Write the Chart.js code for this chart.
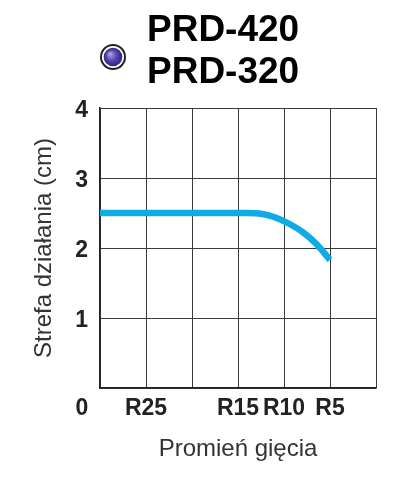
<!DOCTYPE html>
<html>
<head>
<meta charset="utf-8">
<script src="https://cdn.jsdelivr.net/npm/chart.js@4/dist/chart.umd.min.js"></script>
<style>
html,body{margin:0;padding:0;background:#fff;}
#wrap{width:406px;height:483px;position:relative;}
</style>
</head>
<body>
<div id="wrap"><canvas id="c" width="406" height="483"></canvas></div>
<script>
// Title lines
const titleLines = ['PRD-420', 'PRD-320'];
// X axis positions (grid units) and their tick labels
const xTickPositions = [0, 1, 2, 3, 4, 5, 6];
const xTickLabels = ['', 'R25', '', 'R15', 'R10', 'R5', ''];
// Y axis tick labels
const yTicks = [0, 1, 2, 3, 4];
// Series: bending radius position (x) vs range (cm)
const seriesX = [0, 1, 2, 3, 3.2, 3.5, 3.8, 4.1, 4.4, 4.7, 5];
const seriesY = [2.5, 2.5, 2.5, 2.5, 2.5, 2.49, 2.44, 2.35, 2.23, 2.06, 1.83];
const xAxisTitle = 'Promień gięcia';
const yAxisTitle = 'Strefa działania (cm)';

const points = seriesX.map((x, i) => ({x: x, y: seriesY[i]}));

const decor = {
  id: 'decor',
  afterDraw(chart) {
    const ctx = chart.ctx;
    ctx.save();
    // icon
    const cx = 113, cy = 57;
    ctx.beginPath(); ctx.arc(cx, cy, 13, 0, Math.PI * 2);
    ctx.fillStyle = '#222'; ctx.fill();
    ctx.beginPath(); ctx.arc(cx, cy, 11, 0, Math.PI * 2);
    ctx.fillStyle = '#fff'; ctx.fill();
    const g = ctx.createRadialGradient(cx - 3, cy - 3, 1, cx, cy, 9.5);
    g.addColorStop(0, '#a49be0'); g.addColorStop(0.5, '#5547b0'); g.addColorStop(1, '#2e2478');
    ctx.beginPath(); ctx.arc(cx, cy, 9.3, 0, Math.PI * 2);
    ctx.fillStyle = g; ctx.fill();
    // title text
    ctx.fillStyle = '#000';
    ctx.font = 'bold 37px "Liberation Sans", Arial, sans-serif';
    ctx.textAlign = 'left'; ctx.textBaseline = 'alphabetic';
    ctx.fillText(titleLines[0], 147, 41);
    ctx.fillText(titleLines[1], 147, 83);
    // "0" label at corner
    ctx.fillStyle = '#222';
    ctx.font = 'bold 23px "Liberation Sans", Arial, sans-serif';
    ctx.textAlign = 'center'; ctx.textBaseline = 'middle';
    ctx.fillText(String(yTicks[0]), 82, 409);
    ctx.restore();
  }
};

new Chart(document.getElementById('c'), {
  type: 'line',
  data: {
    datasets: [{
      data: points,
      borderColor: '#0eabe6',
      borderWidth: 6.5,
      pointRadius: 0,
      fill: false,
      cubicInterpolationMode: 'monotone',
      borderCapStyle: 'butt'
    }]
  },
  options: {
    responsive: false,
    animation: false,
    layout: {padding: {top: 108, right: 30, left: 0, bottom: 0}},
    plugins: {legend: {display: false}, tooltip: {enabled: false}, title: {display: false}},
    scales: {
      x: {
        type: 'linear', min: 0, max: 6,
        afterBuildTicks(scale) { scale.ticks = xTickPositions.map(v => ({value: v})); },
        afterFit(scale) { scale.height = 95; },
        grid: {color: '#3a3a3a', lineWidth: 1, drawTicks: false},
        border: {color: '#222', width: 1.5},
        ticks: {
          autoSkip: false, maxRotation: 0, padding: 7, color: '#222',
          font: {family: '"Liberation Sans", Arial, sans-serif', size: 23, weight: 'bold'},
          callback: (v) => xTickLabels[xTickPositions.indexOf(v)] || ''
        },
        title: {
          display: true, text: xAxisTitle, color: '#333',
          font: {family: '"Liberation Sans", Arial, sans-serif', size: 24},
          padding: {top: 14, bottom: 19}
        }
      },
      y: {
        type: 'linear', min: 0, max: 4,
        afterBuildTicks(scale) { scale.ticks = yTicks.map(v => ({value: v})); },
        afterFit(scale) { scale.width = 100; },
        grid: {color: '#3a3a3a', lineWidth: 1, drawTicks: false},
        border: {color: '#222', width: 1.5},
        ticks: {
          padding: 12, color: '#222', labelOffset: 3,
          font: {family: '"Liberation Sans", Arial, sans-serif', size: 23, weight: 'bold'},
          callback: (v) => v === 0 ? '' : String(v)
        },
        title: {
          display: true, text: yAxisTitle, color: '#333',
          font: {family: '"Liberation Sans", Arial, sans-serif', size: 24},
          padding: {top: 30, bottom: 0}
        }
      }
    }
  },
  plugins: [decor]
});
</script>
</body>
</html>
